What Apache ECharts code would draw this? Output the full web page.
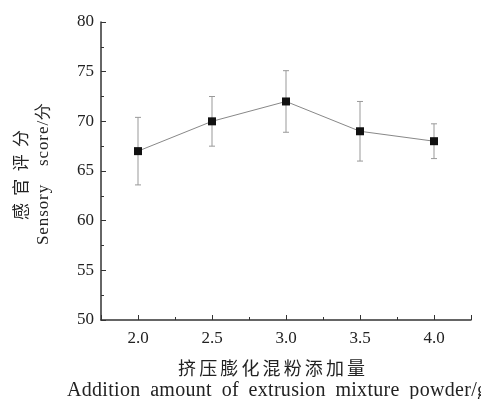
<!DOCTYPE html>
<html><head><meta charset="utf-8">
<script src="https://cdn.jsdelivr.net/npm/echarts@6/dist/echarts.min.js"></script>
<style>html,body{margin:0;padding:0;background:#fff}#c{width:481px;height:399px}</style>
</head><body><div id="c"></div>
<script>
var xValues = [2.0, 2.5, 3.0, 3.5, 4.0];
var means = [67, 70, 72, 69, 68];
var errors = [3.4, 2.5, 3.1, 3.0, 1.75];
var yTicks = [50, 55, 60, 65, 70, 75, 80];
var yTitleCn = '感官评分';
var yTitleEn = 'Sensory score/分';
var xTitleCn = '挤压膨化混粉添加量';
var xTitleEn = 'Addition amount of extrusion mixture powder/g';

var serif = '"Liberation Serif","DejaVu Serif",serif';
var cjk = '"Noto Sans CJK SC",sans-serif';
var txtColor = '#222';

var measureCtx = document.createElement('canvas').getContext('2d');
function measure(t, font){ measureCtx.font = font; return measureCtx.measureText(t).width; }
// lay text out along local x from 0 to span: fixed letter spacing ls inside words,
// remaining room shared by the word gaps (or by all letter gaps if there are no spaces)
function spread(text, font, span, ls){
  var chars = text.split('');
  var hasSpace = text.indexOf(' ') >= 0;
  var ws = chars.map(function(c){ return c === ' ' ? 0 : measure(c, font); });
  var tot = ws.reduce(function(a,b){return a+b;}, 0);
  var out = [], x = 0, i;
  if (!hasSpace) {
    var g = (span - tot) / (chars.length - 1);
    for (i = 0; i < chars.length; i++) {
      out.push({type: 'text', x: x, y: 0, silent: true,
        style: {text: chars[i], font: font, fill: txtColor, textAlign: 'left', textVerticalAlign: 'middle'}});
      x += ws[i] + g;
    }
    return out;
  }
  var nSpaces = chars.filter(function(c){ return c === ' '; }).length;
  var nLetterGaps = 0;
  for (i = 1; i < chars.length; i++) if (chars[i] !== ' ' && chars[i-1] !== ' ') nLetterGaps++;
  var wordGap = (span - tot - nLetterGaps * ls) / nSpaces;
  for (i = 0; i < chars.length; i++) {
    if (chars[i] === ' ') { x += wordGap; continue; }
    if (i > 0 && chars[i-1] !== ' ') x += ls;
    out.push({type: 'text', x: x, y: 0, silent: true,
      style: {text: chars[i], font: font, fill: txtColor, textAlign: 'left', textVerticalAlign: 'middle'}});
    x += ws[i];
  }
  return out;
}

var lineData = xValues.map(function(x, i){ return [x, means[i]]; });
var errData = xValues.map(function(x, i){ return [x, means[i] - errors[i], means[i] + errors[i]]; });

var chart = echarts.init(document.getElementById('c'));
chart.setOption({
  animation: false,
  backgroundColor: '#fff',
  grid: {left: 101, top: 22, right: 10, bottom: 79},
  xAxis: {
    type: 'value', min: 1.75, max: 4.25, splitNumber: 5,
    axisLine: {lineStyle: {color: '#333', width: 1.5}},
    axisTick: {inside: true, length: 5, lineStyle: {color: '#333'}},
    minorTick: {show: true, splitNumber: 2, length: 3, lineStyle: {color: '#333'}},
    splitLine: {show: false},
    axisLabel: {
      fontFamily: serif, fontSize: 17, color: txtColor, margin: 10,
      formatter: function(v){ return (Math.abs(v*2 - Math.round(v*2)) < 1e-6) ? v.toFixed(1) : ''; }
    }
  },
  yAxis: {
    type: 'value', min: yTicks[0], max: yTicks[yTicks.length-1], interval: 5,
    axisLine: {show: true, lineStyle: {color: '#333', width: 1.5}},
    axisTick: {show: true, inside: true, length: 5, lineStyle: {color: '#333'}},
    minorTick: {show: true, splitNumber: 2, length: 3, lineStyle: {color: '#333'}},
    splitLine: {show: false},
    axisLabel: {fontFamily: serif, fontSize: 17, color: txtColor, margin: 7}
  },
  graphic: [
    {type: 'group', x: 20.5, y: 220, rotation: Math.PI/2,
      children: spread(yTitleCn, '17px ' + cjk, 90, 0)},
    {type: 'group', x: 44, y: 245, rotation: Math.PI/2,
      children: spread(yTitleEn, '17px ' + serif, 142, 0.9)},
    {type: 'group', x: 178, y: 368,
      children: spread(xTitleCn, '18px ' + cjk, 187, 0)},
    {type: 'group', x: 67, y: 391,
      children: spread(xTitleEn, '20px ' + serif, 420, 0.3)}
  ],
  series: [
    {
      type: 'custom',
      renderItem: function(params, api){
        var x = api.value(0);
        var lo = api.coord([x, api.value(1)]);
        var hi = api.coord([x, api.value(2)]);
        var cap = 3;
        var st = {stroke: '#999', lineWidth: 1, fill: 'none'};
        return {type: 'group', children: [
          {type: 'line', shape: {x1: lo[0], y1: lo[1], x2: hi[0], y2: hi[1]}, style: st},
          {type: 'line', shape: {x1: lo[0]-cap, y1: lo[1], x2: lo[0]+cap, y2: lo[1]}, style: st},
          {type: 'line', shape: {x1: hi[0]-cap, y1: hi[1], x2: hi[0]+cap, y2: hi[1]}, style: st}
        ]};
      },
      encode: {x: 0, y: [1, 2]},
      data: errData,
      z: 1
    },
    {
      type: 'line', data: lineData,
      symbol: 'rect', symbolSize: 8,
      lineStyle: {color: '#888', width: 1},
      itemStyle: {color: '#111'},
      z: 2
    }
  ]
});
</script></body></html>
